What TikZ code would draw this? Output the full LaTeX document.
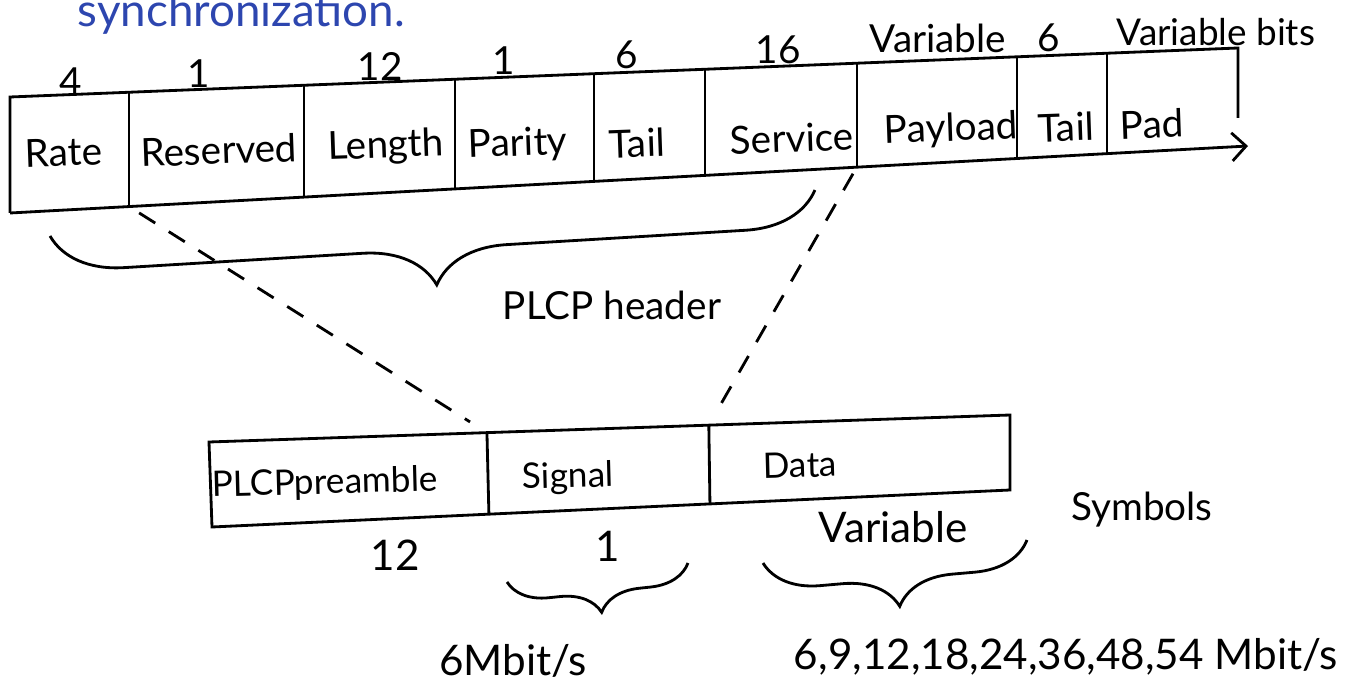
\documentclass[tikz,border=0pt]{standalone}
\usepackage{fontspec}
\setmainfont{Lato}
\usetikzlibrary{calc,decorations.pathreplacing,arrows.meta}
\definecolor{inkblue}{RGB}{45,70,175}
\tikzset{
  ink/.style={line width=0.8pt,black},
  field/.style={font=\fontsize{11}{13}\selectfont,rotate=2},
  subfield/.style={font=\fontsize{10}{12}\selectfont,rotate=1.5},
  bits/.style={font=\fontsize{11}{13}\selectfont},
  rate/.style={font=\fontsize{12}{14}\selectfont},
  hbrace/.style={ink,decorate,decoration={brace,mirror,amplitude=#1}},
  cut/.style={ink,dash pattern=on 0.19cm off 0.16cm},
}

\begin{document}
\begin{tikzpicture}[x=0.01cm,y=-0.01cm]
\useasboundingbox (0,0) rectangle (1345,682);

% heading (runs off the top)
\node[anchor=base west,inner sep=0pt,text=inkblue,font=\fontsize{13}{15}\selectfont] (sync) at (77,27) {synchronization.};

% PPDU frame
\coordinate (tl) at (10,97);
\coordinate (tr) at (1238,48);
\coordinate (bl) at (10,213);
\coordinate (br) at (1238,146);
\draw[ink] (bl) -- (tl) -- (tr) -- ($(br)+(0,-28)$);
\draw[ink,-{Straight Barb[length=4pt]}] (bl) -- ($(br)+(10,0)$);

% field dividers
\foreach \x/\n in {129/1,304/2,455/3,594/4,705/5,857/6,1017/7,1107/8}
  \draw[ink] ($(tl)!{(\x-10)/1228}!(tr)$) coordinate (top\n) -- ($(bl)!{(\x-10)/1228}!(br)$) coordinate (bot\n);

% field names
\node[field] (rate) at (64,152) {Rate};
\node[field] (resv) at (219,150) {Reserved};
\node[field] (len) at (386,147) {Length};
\node[field] (par) at (518,145) {Parity};
\node[field] (tail) at (637,143) {Tail};
\node[field] (serv) at (792,138) {Service};
\node[field] (pay) at (951,130) {Payload};
\node[field] (tailb) at (1066,127) {Tail};
\node[field] (pad) at (1152,124) {Pad};

% field sizes
\node[bits] (nrate) at (71,82) {4};
\node[bits] (nresv) at (199,74) {1};
\node[bits] (nlen) at (380,66) {12};
\node[bits] (npar) at (504,61) {1};
\node[bits] (ntail) at (627,55) {6};
\node[bits] (nserv) at (778,50) {16};
\node[bits] (npay) at (938,38) {Variable};
\node[bits] (ntailb) at (1049,38) {6};
\node[bits,font=\fontsize{10.5}{13}\selectfont] (npad) at (1216,32) {Variable bits};

% header brace
\coordinate (hdrL) at (50,236);
\coordinate (hdrR) at (815,190);
\draw[hbrace=0.72cm] (hdrL) -- (hdrR);
\node[bits] (hdr) at (612,305) {PLCP header};

% lower frame
\coordinate (ptl) at (209,442);
\coordinate (ptr) at (1010,415);
\coordinate (pbl) at (212,527);
\coordinate (pbr) at (1010,490);
\draw[ink] (ptl) -- (ptr) -- (pbr) -- (pbl) -- cycle;
\draw[ink] ($(ptl)!0.347!(ptr)$) coordinate (ptop1) -- ($(pbl)!0.347!(pbr)$) coordinate (pbot1);
\draw[ink] ($(ptl)!0.624!(ptr)$) coordinate (ptop2) -- ($(pbl)!0.624!(pbr)$) coordinate (pbot2);

\node[subfield] (pre) at (325,484) {PLCPpreamble};
\node[subfield] (sig) at (568,478) {Signal};
\node[subfield] (dat) at (800,465) {Data};

% header expanded into the lower frame
\draw[cut,shorten <=0.12cm,shorten >=0.2cm] (bot1) -- (ptop1);
\draw[cut,shorten <=0.08cm,shorten >=0.16cm] (bot6) -- (ptop2);

% symbol counts
\node[rate] (npre) at (395,555) {12};
\node[rate] (nsig) at (608,546) {1};
\node[rate] (ndat) at (893,527) {Variable};
\node[bits] (sym) at (1142,510) {Symbols};

% rate braces
\coordinate (sigL) at (507,582);
\coordinate (sigR) at (688,563);
\coordinate (datL) at (763,563);
\coordinate (datR) at (1027,540);
\draw[hbrace=0.4cm] (sigL) -- (sigR);
\draw[hbrace=0.55cm] (datL) -- (datR);
\node[rate] (rsig) at (513,661) {6Mbit/s};
\node[rate] (rdat) at (1066,657) {6,9,12,18,24,36,48,54 Mbit/s};

\end{tikzpicture}
\end{document}
